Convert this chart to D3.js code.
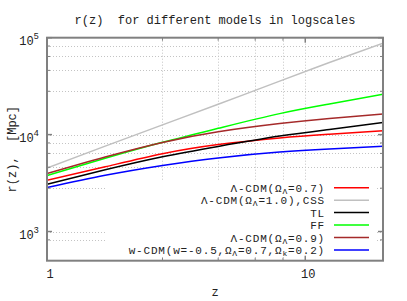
<!DOCTYPE html>
<html>
<head>
<meta charset="utf-8">
<script src="https://cdn.jsdelivr.net/npm/d3@7"></script>
<style>
  html, body { margin: 0; padding: 0; background: #fff; }
  svg { display: block; }
</style>
</head>
<body>
<script>
// ---- data ----
const zValues = [1, 1.68, 2.8, 4.6, 7.96, 12.4, 20];
const lcdm07  = [3380, 4650, 6350, 7900, 9250, 10100, 10990];   // Λ-CDM(ΩΛ=0.7)
const lcdm10  = [4530, 7600, 12600, 20600, 35600, 55400, 87500]; // Λ-CDM(ΩΛ=1.0),CSS
const tiredL  = [3074, 4330, 5900, 7550, 9650, 11300, 13300];   // TL
const ffModel = [3779, 5700, 8330, 11610, 16460, 20700, 26100]; // FF
const lcdm09  = [3963, 5875, 8300, 10700, 13000, 14700, 16330]; // Λ-CDM(ΩΛ=0.9)
const wcdm    = [2843, 3800, 4800, 5750, 6600, 7100, 7570];     // w-CDM

const seriesValues = [lcdm07, lcdm10, tiredL, ffModel, lcdm09, wcdm];
const seriesColors = ["#ff0000", "#c0c0c0", "#000000", "#00ff00", "#a52a2a", "#0000ff"];
// legend labels: [main text, subscript, main text, subscript, ...]
const legendParts = [
  ["Λ-CDM(Ω", "Λ", "=0.7)"],
  ["Λ-CDM(Ω", "Λ", "=1.0),CSS"],
  ["TL"],
  ["FF"],
  ["Λ-CDM(Ω", "Λ", "=0.9)"],
  ["w-CDM(w=-0.5,Ω", "Λ", "=0.7,Ω", "k", "=0.2)"]
];

const xMajor = [1, 10];
const xMinor = [2.8, 4.6, 6.4, 8.2];
const yMajor = [1e3, 1e4, 1e5];
const yMinor = [820, 2800, 4600, 6400, 8200, 28000, 46000, 64000, 82000];
const yMajorExp = ["3", "4", "5"];

const titleText = "r(z)  for different models in logscales";
const xLabel = "z";
const yLabel = "r(z),  [Mpc]";

// ---- layout ----
const W = 407, H = 301;
const L = 47, R = 383, T = 37.7, B = 260.7;
const FONT = '"Liberation Mono", "Courier New", Courier, monospace';
const TXT = "#222";

const svg = d3.select("body").append("svg").attr("width", W).attr("height", H)
  .style("font-family", FONT);

const x = d3.scaleLog().domain([1, 20]).range([L, R]);
const y = d3.scaleLog().domain([500, 1e5]).range([B, T]);

// grid
const grid = svg.append("g").attr("stroke", "#c4c4c4").attr("stroke-width", 1)
  .attr("stroke-dasharray", "1,2");
grid.selectAll("line.gx").data(xMinor.concat([10])).enter().append("line")
  .attr("x1", d => Math.round(x(d)) + 0.5).attr("x2", d => Math.round(x(d)) + 0.5)
  .attr("y1", T).attr("y2", B);
grid.selectAll("line.gy").data(yMinor.concat([1e3, 1e4])).enter().append("line")
  .attr("x1", L).attr("x2", R)
  .attr("y1", d => Math.round(y(d)) + 0.5).attr("y2", d => Math.round(y(d)) + 0.5);

// legend opaque box
svg.append("rect").attr("x", 107).attr("y", 180).attr("width", 270).attr("height", 77)
  .attr("fill", "#fff");

// curves
svg.append("clipPath").attr("id", "clip").append("rect")
  .attr("x", L).attr("y", T).attr("width", R - L).attr("height", B - T);
const line = d3.line().x(d => x(d[0])).y(d => y(d[1])).curve(d3.curveNatural);
svg.append("g").attr("clip-path", "url(#clip)")
  .selectAll("path").data(seriesValues).enter().append("path")
  .attr("d", vals => line(zValues.map((z, i) => [z, vals[i]])))
  .attr("fill", "none")
  .attr("stroke", (d, i) => seriesColors[i])
  .attr("stroke-width", 1.5);

// legend entries
const legY0 = 187.7, legDy = 12.46;
const leg = svg.append("g");
legendParts.forEach((parts, i) => {
  const yy = legY0 + i * legDy;
  const t = leg.append("text").attr("x", 325).attr("y", yy + 4)
    .attr("text-anchor", "end").attr("font-size", 11).attr("fill", TXT)
    .attr("letter-spacing", 0.8);
  parts.forEach((p, j) => {
    const sub = j % 2 === 1;
    t.append("tspan").text(p)
      .attr("font-size", sub ? 8 : 11)
      .attr("dy", sub ? 2 : (j > 0 ? -2 : 0));
  });
  leg.append("line").attr("x1", 334).attr("x2", 369).attr("y1", yy).attr("y2", yy)
    .attr("stroke", seriesColors[i]).attr("stroke-width", 1.5);
});

// ticks (inward, mirrored)
const tk = svg.append("g").attr("stroke", "#808080");
xMajor.concat(xMinor).forEach(v => {
  const major = xMajor.includes(v);
  const len = major ? 5 : 3, xx = x(v);
  tk.append("line").attr("x1", xx).attr("x2", xx).attr("y1", B).attr("y2", B - len)
    .attr("stroke-width", major ? 1.5 : 1);
  tk.append("line").attr("x1", xx).attr("x2", xx).attr("y1", T).attr("y2", T + len)
    .attr("stroke-width", major ? 1.5 : 1);
});
yMajor.concat(yMinor).forEach(v => {
  const major = yMajor.includes(v);
  const len = major ? 5 : 3, yy = y(v);
  tk.append("line").attr("x1", L).attr("x2", L + len).attr("y1", yy).attr("y2", yy)
    .attr("stroke-width", major ? 1.5 : 1);
  tk.append("line").attr("x1", R).attr("x2", R - len).attr("y1", yy).attr("y2", yy)
    .attr("stroke-width", major ? 1.5 : 1);
});

// border
svg.append("rect").attr("x", L).attr("y", T).attr("width", R - L).attr("height", B - T)
  .attr("fill", "none").attr("stroke", "#808080").attr("stroke-width", 2);

// x tick labels
svg.selectAll("text.xl").data(xMajor).enter().append("text")
  .attr("x", d => x(d) + 3).attr("y", 278).attr("text-anchor", "middle")
  .attr("font-size", 12).attr("fill", TXT).text(d => d);

// y tick labels (10^n)
yMajor.forEach((v, i) => {
  const t = svg.append("text").attr("x", 39).attr("y", y(v) + 7)
    .attr("text-anchor", "end").attr("font-size", 12).attr("fill", TXT);
  t.append("tspan").text("10");
  t.append("tspan").text(yMajorExp[i]).attr("font-size", 9).attr("dy", -6);
});

// title & axis labels
svg.append("text").attr("x", 215).attr("y", 24).attr("text-anchor", "middle")
  .attr("font-size", 12).attr("fill", TXT).text(titleText).style("white-space", "pre");
svg.append("text").attr("x", 215).attr("y", 296).attr("text-anchor", "middle")
  .attr("font-size", 12).attr("fill", TXT).text(xLabel);
svg.append("text").attr("transform", `translate(16,${(T + B) / 2}) rotate(-90)`)
  .attr("text-anchor", "middle").attr("font-size", 12).attr("fill", TXT)
  .style("white-space", "pre").text(yLabel);
</script>
</body>
</html>
